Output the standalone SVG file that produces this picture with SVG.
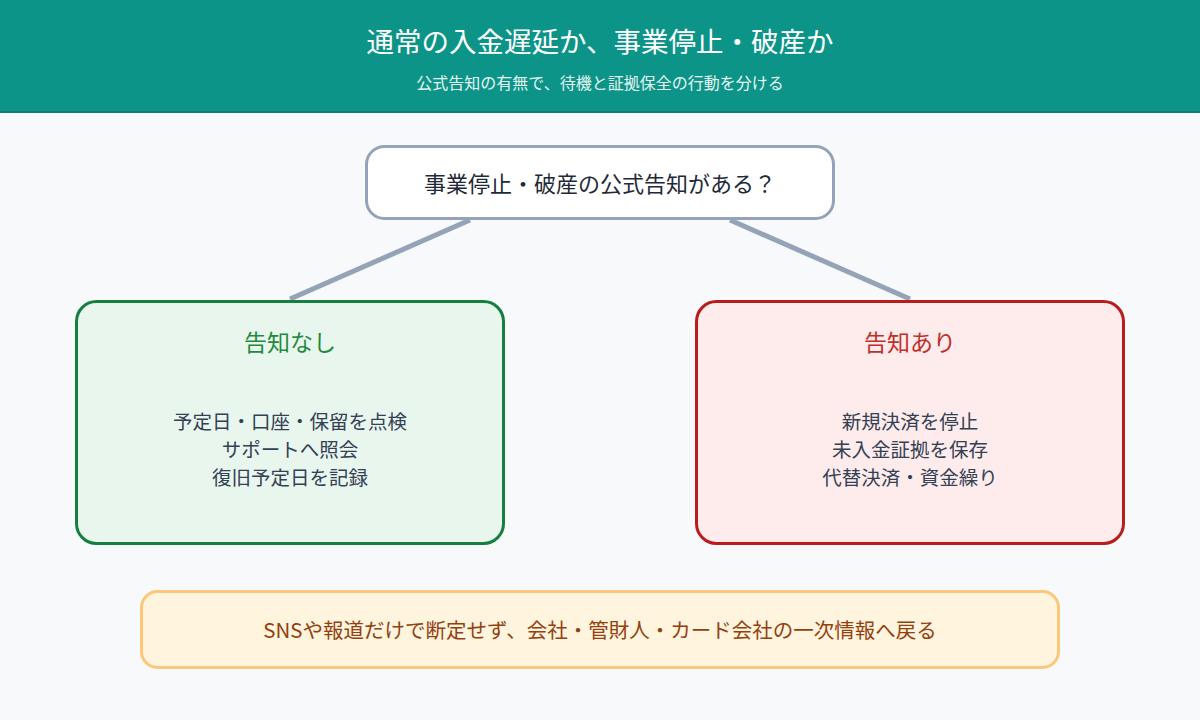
<svg xmlns="http://www.w3.org/2000/svg" width="1200" height="720" viewBox="0 0 1200 720">
<style>
text{font-family:"Noto Sans CJK JP","Noto Sans",sans-serif;text-anchor:middle;dominant-baseline:central}
.body{font-size:19.5px;fill:#334155}
.conn{stroke:#94a3b8;stroke-width:5;fill:none}
</style>
<rect width="1200" height="720" fill="#f8f9fb"/>
<g id="header">
<rect x="0" y="0" width="1200" height="112" fill="#0d9488"/>
<rect x="0" y="111" width="1200" height="2" fill="#0b7f74"/>
<text x="600" y="40" style="font-size:27.5px;fill:#ffffff">通常の入金遅延か、事業停止・破産か</text>
<text x="600" y="82" style="font-size:16px;fill:#e6f5f2">公式告知の有無で、待機と証拠保全の行動を分ける</text>
</g>
<g id="connectors">
<line class="conn" x1="470" y1="220" x2="290" y2="299"/>
<line class="conn" x1="730" y1="220" x2="910" y2="299"/>
</g>
<g id="question">
<rect x="366.5" y="146.5" width="467" height="72" rx="18" fill="#ffffff" stroke="#94a3b8" stroke-width="3"/>
<text x="600" y="182" style="font-size:22px;fill:#1f2937">事業停止・破産の公式告知がある？</text>
</g>
<g id="no-notice">
<rect x="76.5" y="301.5" width="427" height="242" rx="20" fill="#e9f6ee" stroke="#15803d" stroke-width="3"/>
<text x="290" y="341" style="font-size:23px;fill:#1e8a3e">告知なし</text>
<text class="body" x="290" y="420">予定日・口座・保留を点検</text>
<text class="body" x="290" y="448">サポートへ照会</text>
<text class="body" x="290" y="476">復旧予定日を記録</text>
</g>
<g id="notice">
<rect x="696.5" y="301.5" width="427" height="242" rx="20" fill="#feebeb" stroke="#b91c1c" stroke-width="3"/>
<text x="910" y="341" style="font-size:23px;fill:#c0302a">告知あり</text>
<text class="body" x="910" y="420">新規決済を停止</text>
<text class="body" x="910" y="448">未入金証拠を保存</text>
<text class="body" x="910" y="476">代替決済・資金繰り</text>
</g>
<g id="note">
<rect x="141.5" y="591.5" width="917" height="76" rx="16" fill="#fff4de" stroke="#fbc77a" stroke-width="3"/>
<text x="600" y="629" style="font-size:20.5px;fill:#92400e">SNSや報道だけで断定せず、会社・管財人・カード会社の一次情報へ戻る</text>
</g>
</svg>
